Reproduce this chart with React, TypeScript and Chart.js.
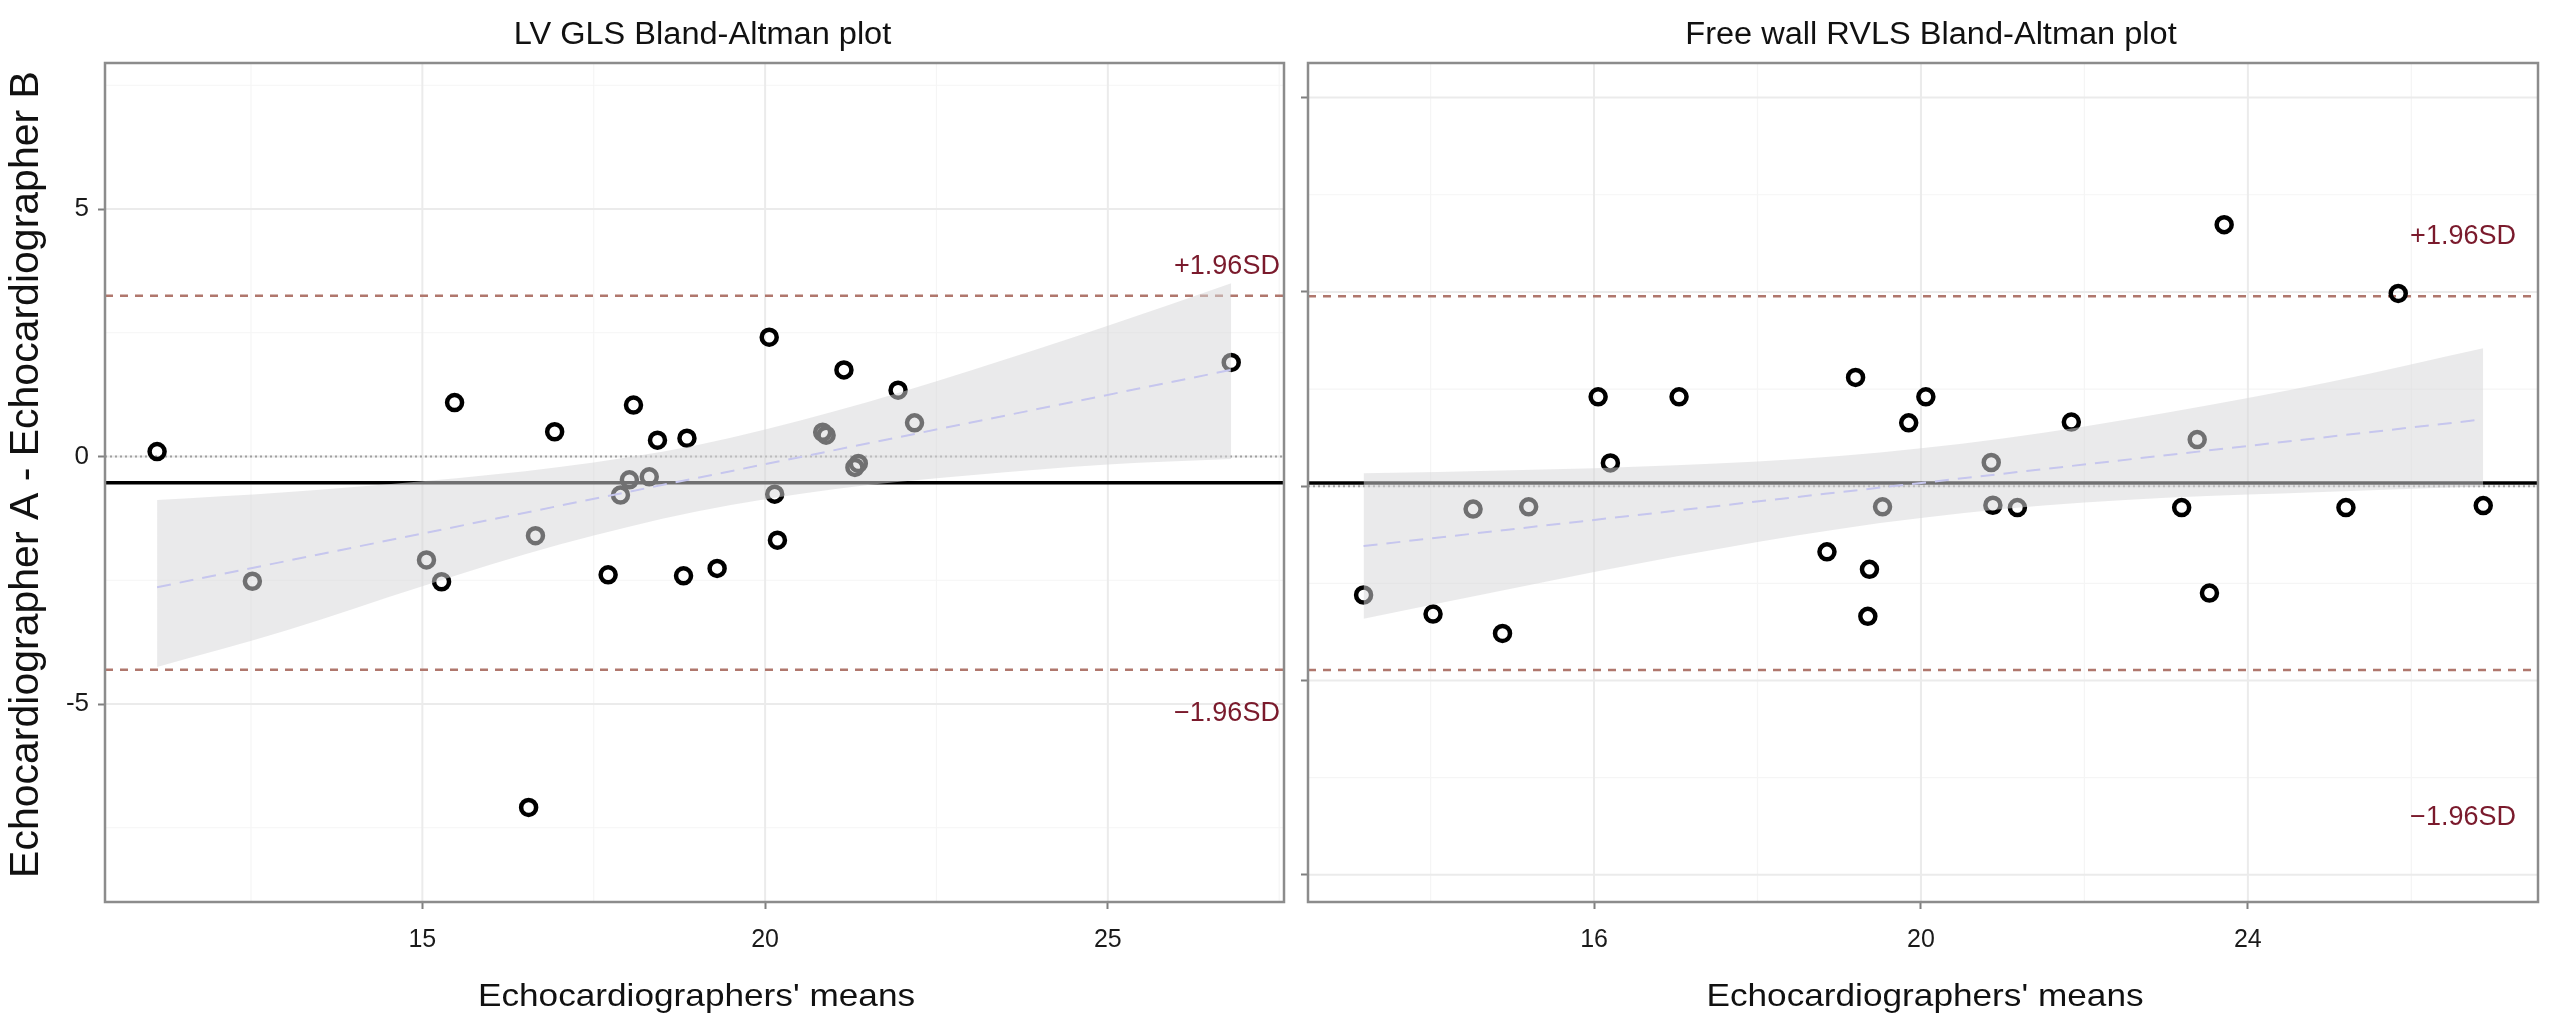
import React, { useEffect, useRef } from 'react';
import { Chart, registerables } from 'chart.js';

Chart.register(...registerables);

const FONT = '"Liberation Sans", Arial, Helvetica, sans-serif';
Chart.defaults.font.family = FONT;

// ---------------- LV GLS panel ----------------
const lvTitle = 'LV GLS Bland-Altman plot';
const lvMeans = [11.13, 12.52, 15.06, 15.28, 15.47, 16.55, 16.65, 16.93, 17.71, 17.89, 18.02, 18.08, 18.31, 18.43, 18.81, 18.86, 19.3, 20.06, 20.14, 20.18, 20.84, 20.89, 21.15, 21.31, 21.36, 21.94, 22.18, 26.8];
const lvDiffs = [0.1, -2.52, -2.09, -2.53, 1.09, -7.09, -1.6, 0.5, -2.39, -0.78, -0.47, 1.04, -0.41, 0.33, -2.41, 0.37, -2.26, 2.41, -0.76, -1.69, 0.49, 0.43, 1.75, -0.22, -0.14, 1.34, 0.68, 1.9];
const lvBias = -0.53;
const lvUpperLoA = 3.25;
const lvLowerLoA = -4.31;
const lvFitX = [11.13, 26.8];
const lvFitY = [-2.64, 1.75];
const lvBandX = [11.13, 13, 15, 17, 19, 21, 23, 25, 26.8];
const lvBandUpper = [-0.88, -0.72, -0.5, -0.21, 0.23, 0.91, 1.74, 2.64, 3.5];
const lvBandLower = [-4.25, -3.52, -2.62, -1.78, -1.11, -0.66, -0.38, -0.16, -0.05];
const lvXTicks = [15, 20, 25];
const lvXMinor = [12.5, 17.5, 22.5, 27.5];
const lvYTicks = [-5, 0, 5];
const lvYMinor = [-7.5, -2.5, 2.5, 7.5];
const lvXRange = [10.37, 27.57];
const lvYRange = [-9.0, 7.95];
const lvLabelX = 27.51;
const lvUpperLabelY = 3.83;
const lvLowerLabelY = -5.2;

// ---------------- Free wall RVLS panel ----------------
const rvTitle = 'Free wall RVLS Bland-Altman plot';
const rvMeans = [13.18, 14.03, 14.52, 14.88, 15.2, 16.05, 16.2, 17.04, 18.85, 19.2, 19.35, 19.37, 19.53, 19.85, 20.06, 20.86, 20.88, 21.18, 21.84, 23.19, 23.38, 23.53, 23.71, 25.2, 25.84, 26.88];
const rvDiffs = [-2.8, -3.29, -0.59, -3.79, -0.53, 2.3, 0.6, 2.3, -1.69, 2.8, -3.35, -2.14, -0.53, 1.63, 2.3, 0.61, -0.49, -0.55, 1.65, -0.55, 1.2, -2.75, 6.73, -0.55, 4.96, -0.5];
const rvBias = 0.08;
const rvUpperLoA = 4.89;
const rvLowerLoA = -4.73;
const rvFitX = [13.18, 26.88];
const rvFitY = [-1.54, 1.72];
const rvBandX = [13.18, 15, 17, 19, 21, 23, 25, 26.88];
const rvBandUpper = [0.33, 0.41, 0.54, 0.78, 1.23, 1.89, 2.68, 3.55];
const rvBandLower = [-3.41, -2.63, -1.81, -1.1, -0.59, -0.3, -0.14, 0.0];
const rvXTicks = [16, 20, 24];
const rvXMinor = [14, 18, 22, 26];
const rvYTicks = [-10, -5, 0, 5, 10];
const rvYMinor = [-7.5, -2.5, 2.5, 7.5];
const rvXRange = [12.5, 27.55];
const rvYRange = [-10.7, 10.89];
const rvLabelX = 27.28;
const rvUpperLabelY = 6.43;
const rvLowerLabelY = -8.52;

const xTitle = "Echocardiographers' means";
const yTitle = 'Echocardiographer A - Echocardiographer B';
const upperLabel = '+1.96SD';
const lowerLabel = '\u22121.96SD';

// ---------------- styles ----------------
const BAND_FILL = 'rgba(214,214,216,0.52)';
const FIT_COLOR = '#c6c6ee';
const LOA_COLOR = '#b0776d';
const ZERO_COLOR = '#a0a0a0';
const LABEL_COLOR = '#7a1a2c';
const MAJOR_GRID = '#ebebeb';
const MINOR_GRID = '#f5f5f5';
const BORDER = '#8c8c8c';
const H = 1018;

type Spec = {
  title: string;
  means: number[]; diffs: number[];
  bias: number; upper: number; lower: number;
  fitX: number[]; fitY: number[];
  bandX: number[]; bandUpper: number[]; bandLower: number[];
  xTicks: number[]; xMinor: number[]; yTicks: number[]; yMinor: number[];
  xRange: number[]; yRange: number[];
  labelX: number; upperLabelY: number; lowerLabelY: number;
  showYLabels: boolean;
};

type Geom = { yAxisWidth: number; padRight: number; top: number; xAxisHeight: number; showYTitle: boolean };

function drawText(ctx: CanvasRenderingContext2D, s: string, x: number, y: number, size: number, color: string,
  align: CanvasTextAlign, baseline: CanvasTextBaseline, sx = 1, rot = 0) {
  ctx.save();
  ctx.translate(x, y);
  if (rot) ctx.rotate(rot);
  if (rot) ctx.scale(1, sx); else ctx.scale(sx, 1);
  ctx.font = `${size}px ${FONT}`;
  ctx.fillStyle = color;
  ctx.textAlign = align;
  ctx.textBaseline = baseline;
  ctx.fillText(s, 0, 0);
  ctx.restore();
}

function makeConfig(spec: Spec, geom: Geom): any {
  const [xMin, xMax] = spec.xRange;
  const hline = (y: number, color: string, width: number, dash: number[], order: number) => ({
    type: 'line', data: [{ x: xMin, y }, { x: xMax, y }], borderColor: color, borderWidth: width,
    borderDash: dash, pointRadius: 0, fill: false, showLine: true, order,
  });

  const decor = {
    id: 'decor',
    beforeDatasetsDraw(chart: any) {
      const { ctx, chartArea: a, scales } = chart;
      const xs = scales.x, ys = scales.y;
      ctx.save();
      ctx.beginPath(); ctx.rect(a.left, a.top, a.right - a.left, a.bottom - a.top); ctx.clip();
      const vline = (v: number) => { const p = xs.getPixelForValue(v); ctx.beginPath(); ctx.moveTo(p, a.top); ctx.lineTo(p, a.bottom); ctx.stroke(); };
      const hl = (v: number) => { const p = ys.getPixelForValue(v); ctx.beginPath(); ctx.moveTo(a.left, p); ctx.lineTo(a.right, p); ctx.stroke(); };
      ctx.strokeStyle = MINOR_GRID; ctx.lineWidth = 1.2;
      spec.xMinor.forEach(vline); spec.yMinor.forEach(hl);
      ctx.strokeStyle = MAJOR_GRID; ctx.lineWidth = 2;
      spec.xTicks.forEach(vline); spec.yTicks.forEach(hl);
      ctx.restore();
    },
    afterDatasetsDraw(chart: any) {
      const { ctx, chartArea: a, scales } = chart;
      ctx.save();
      ctx.strokeStyle = BORDER; ctx.lineWidth = 2.5;
      ctx.strokeRect(a.left, a.top, a.right - a.left, a.bottom - a.top);
      ctx.restore();
      const lx = scales.x.getPixelForValue(spec.labelX);
      drawText(ctx, upperLabel, lx, scales.y.getPixelForValue(spec.upperLabelY), 27, LABEL_COLOR, 'right', 'middle');
      drawText(ctx, lowerLabel, lx, scales.y.getPixelForValue(spec.lowerLabelY), 27, LABEL_COLOR, 'right', 'middle');
    },
    afterDraw(chart: any) {
      const { ctx, chartArea: a } = chart;
      const cx = (a.left + a.right) / 2;
      drawText(ctx, spec.title, cx + 8, 44, 31, '#111', 'center', 'alphabetic', 1.05);
      drawText(ctx, xTitle, cx + 2, 1006, 32, '#111', 'center', 'alphabetic', 1.1);
      if (geom.showYTitle) {
        drawText(ctx, yTitle, 38, (a.top + a.bottom) / 2 - 8, 41, '#111', 'center', 'alphabetic', 1, -Math.PI / 2);
      }
    },
  };

  return {
    type: 'scatter',
    data: {
      datasets: [
        { type: 'line', data: spec.fitX.map((x, i) => ({ x, y: spec.fitY[i] })), borderColor: FIT_COLOR, borderWidth: 2,
          borderDash: [14, 9], pointRadius: 0, fill: false, showLine: true, order: -1 },
        { type: 'line', data: spec.bandX.map((x, i) => ({ x, y: spec.bandUpper[i] })), borderWidth: 0, borderColor: 'rgba(0,0,0,0)',
          backgroundColor: BAND_FILL, pointRadius: 0, fill: '+1', showLine: true, cubicInterpolationMode: 'monotone', order: 0 },
        { type: 'line', data: spec.bandX.map((x, i) => ({ x, y: spec.bandLower[i] })), borderWidth: 0, borderColor: 'rgba(0,0,0,0)',
          pointRadius: 0, fill: false, showLine: true, cubicInterpolationMode: 'monotone', order: 0 },
        { type: 'scatter', data: spec.means.map((x, i) => ({ x, y: spec.diffs[i] })), pointRadius: 7.5, pointBorderWidth: 4.5,
          pointBorderColor: '#000', pointBackgroundColor: 'rgba(0,0,0,0)', showLine: false, order: 1 },
        hline(spec.bias, '#000', 3.5, [], 2),
        hline(spec.upper, LOA_COLOR, 2.5, [8, 7], 2),
        hline(spec.lower, LOA_COLOR, 2.5, [8, 7], 2),
        hline(0, ZERO_COLOR, 2, [2, 3], 3),
      ],
    },
    options: {
      responsive: false,
      animation: false,
      devicePixelRatio: 1,
      events: [],
      layout: { padding: { left: 0, right: geom.padRight, top: geom.top, bottom: 0 } },
      plugins: { legend: { display: false }, tooltip: { enabled: false }, title: { display: false } },
      scales: {
        x: {
          type: 'linear', min: spec.xRange[0], max: spec.xRange[1],
          afterBuildTicks: (s: any) => { s.ticks = spec.xTicks.map((v) => ({ value: v })); },
          afterFit: (s: any) => { s.height = geom.xAxisHeight; },
          grid: { drawOnChartArea: false, drawTicks: true, tickLength: 7, tickColor: '#7f7f7f', tickWidth: 2 },
          border: { display: false },
          ticks: { font: { size: 25, family: FONT }, color: '#1a1a1a', padding: 16, maxRotation: 0, autoSkip: false,
            callback: (v: any) => String(v) },
        },
        y: {
          type: 'linear', min: spec.yRange[0], max: spec.yRange[1],
          afterBuildTicks: (s: any) => { s.ticks = spec.yTicks.map((v) => ({ value: v })); },
          afterFit: (s: any) => { s.width = geom.yAxisWidth; },
          grid: { drawOnChartArea: false, drawTicks: true, tickLength: 7, tickColor: '#7f7f7f', tickWidth: 2 },
          border: { display: false },
          ticks: { font: { size: 26, family: FONT }, color: '#1a1a1a', padding: 9, autoSkip: false,
            callback: (v: any) => (spec.showYLabels ? String(v) : '') },
        },
      },
    },
    plugins: [decor],
  };
}

const lvSpec: Spec = {
  title: lvTitle, means: lvMeans, diffs: lvDiffs, bias: lvBias, upper: lvUpperLoA, lower: lvLowerLoA,
  fitX: lvFitX, fitY: lvFitY, bandX: lvBandX, bandUpper: lvBandUpper, bandLower: lvBandLower,
  xTicks: lvXTicks, xMinor: lvXMinor, yTicks: lvYTicks, yMinor: lvYMinor, xRange: lvXRange, yRange: lvYRange,
  labelX: lvLabelX, upperLabelY: lvUpperLabelY, lowerLabelY: lvLowerLabelY, showYLabels: true,
};
const rvSpec: Spec = {
  title: rvTitle, means: rvMeans, diffs: rvDiffs, bias: rvBias, upper: rvUpperLoA, lower: rvLowerLoA,
  fitX: rvFitX, fitY: rvFitY, bandX: rvBandX, bandUpper: rvBandUpper, bandLower: rvBandLower,
  xTicks: rvXTicks, xMinor: rvXMinor, yTicks: rvYTicks, yMinor: rvYMinor, xRange: rvXRange, yRange: rvYRange,
  labelX: rvLabelX, upperLabelY: rvUpperLabelY, lowerLabelY: rvLowerLabelY, showYLabels: false,
};

const LEFT_W = 1296;
const RIGHT_W = 1254;

export default function App() {
  const leftRef = useRef<HTMLCanvasElement>(null);
  const rightRef = useRef<HTMLCanvasElement>(null);

  useEffect(() => {
    const c1 = new Chart(leftRef.current as HTMLCanvasElement, makeConfig(lvSpec,
      { yAxisWidth: 105, padRight: LEFT_W - 1288, top: 63, xAxisHeight: H - 902, showYTitle: true }));
    const c2 = new Chart(rightRef.current as HTMLCanvasElement, makeConfig(rvSpec,
      { yAxisWidth: 1307 - LEFT_W, padRight: RIGHT_W - (2545 - LEFT_W), top: 63, xAxisHeight: H - 902, showYTitle: false }));
    return () => { c1.destroy(); c2.destroy(); };
  }, []);

  return (
    <div style={{ position: 'absolute', left: 0, top: 0, width: 2550, height: H, background: '#fff', overflow: 'hidden' }}>
      <canvas ref={leftRef} width={LEFT_W} height={H}
        style={{ position: 'absolute', left: 0, top: 0, width: LEFT_W, height: H }} />
      <canvas ref={rightRef} width={RIGHT_W} height={H}
        style={{ position: 'absolute', left: LEFT_W, top: 0, width: RIGHT_W, height: H }} />
    </div>
  );
}
